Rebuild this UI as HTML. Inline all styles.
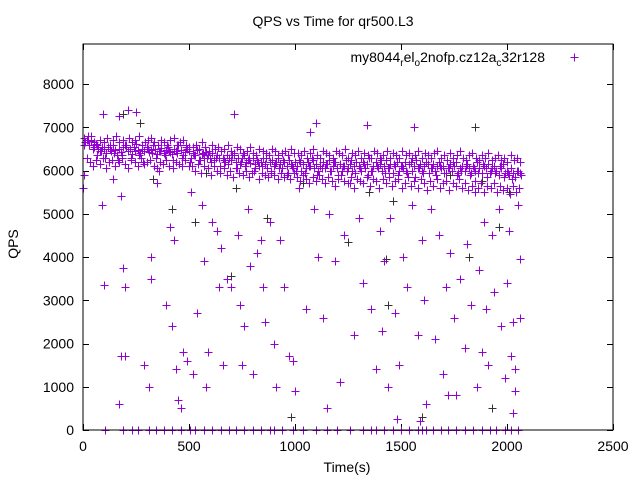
<!DOCTYPE html>
<html><head><meta charset="utf-8"><style>
html,body{margin:0;padding:0;background:#fff}
svg{display:block;font-family:"Liberation Sans",sans-serif}
</style></head><body>
<svg id="chart" width="640" height="480" viewBox="0 0 640 480">
<text x="333" y="26" font-size="14" text-anchor="middle">QPS vs Time for qr500.L3</text>
<text x="18" y="244" font-size="14" text-anchor="middle" transform="rotate(-90 18 244)">QPS</text>
<text x="347" y="472" font-size="14" text-anchor="middle">Time(s)</text>
<g id="ticks"></g>
<g id="marks"></g>
<rect x="83" y="44" width="530" height="386" fill="none" stroke="#000" stroke-width="1"/>
<g>
<text x="545" y="62" font-size="14" text-anchor="end">my8044<tspan font-size="10" dy="4">r</tspan><tspan dy="-4">el</tspan><tspan font-size="10" dy="4">o</tspan><tspan dy="-4">2nofp.cz12a</tspan><tspan font-size="10" dy="4">c</tspan><tspan dy="-4">32r128</tspan></text>
<path d="M570.5 57.5h8M574.5 53.5v8" stroke="#9400d3" stroke-width="1"/>
</g>
</svg>
<script>
const xTicks=[0,500,1000,1500,2000,2500];
const yTicks=[0,1000,2000,3000,4000,5000,6000,7000,8000];
const bandA=[5600,6650,6700,6600,6680,6550,6620,6500,6450,6550,
6500,6400,6550,6450,6600,6480,6350,6500,6420,6550,
6600,6450,6500,6380,6550,6620,6480,6400,6500,6450,
6550,6420,6480,6600,6500,6380,6450,6520,6400,6480,
6550,6420,6380,6500,6450,6600,6480,6350,6420,6500,
6450,6300,6400,6350,6480,6250,6380,6300,6420,6350,
6300,6400,6250,6350,6300,6450,6280,6200,6350,6300,
6250,6350,6200,6300,6150,6280,6350,6200,6250,6180,
6300,6150,6250,6100,6200,6280,6150,6050,6200,6250,
6100,6200,6300,6150,6050,6200,6100,6250,6150,6050,
6200,6100,6250,6000,6150,6050,6200,6100,6300,6050,
6150,6000,6100,6200,6050,6150,6250,6000,6100,6200,
6050,6150,6000,6100,6250,6050,6150,6000,6100,6200,
6100,6000,6200,6050,6150,6300,6000,6100,6200,6050,
6150,6000,6100,6250,6050,6150,5950,6100,6200,6000,
6100,6050,6200,5950,6150,6000,6100,6250,6050,6150,
6000,6100,6200,5950,6050,6150,6000,6100,6200,6050,
6100,5950,6050,6150,6000,6100,6200,5950,6050,6100,
6000,6150,6050,5950,6100,6000,6200,6050,5950,6100,
6050,6150,5950,6050,6100,6000,5900,6050,6150,5950,
6000,5900,6050,5950,5850,6000,5950];
const bandB=[6600,6700,6500,6350,6450,6300,6500,6400,6250,6350,
6550,6300,6450,6350,6200,6500,6400,6300,6450,6350,
6450,6250,6400,6300,6550,6200,6350,6250,6400,6300,
6200,6300,6100,6250,6150,6350,6050,6200,6100,6300,
6000,6200,6100,6300,5950,6150,6050,6250,5950,6100,
6000,6200,5950,6100,6250,5900,6050,6150,6000,6200,
5900,6100,6000,6250,5950,6050,6150,5900,6000,6100,
6250,5950,6050,6150,5900,6100,6000,6200,5850,6050,
5950,6150,6050,5900,6100,5950,6050,6200,5900,6000,
6100,5900,6050,5950,6150,5850,6000,5950,6100,5850,
5950,5800,6000,5900];
const bandC=[6750,6800,6700,6650,6600,6700,6650,6750,6600,6700,6800,6650,6700,6600,6750,6650,6700,6800,6600,6650,6700,6750,6650,6600,6700,6650,6600,6700,6750,6600,6650,6700,6600,6550,
6550,6600,6500,6650,6550,6450,6600,6500,6550,6450,6500,6600,6450,6400,6550,6500,6400,6450,6550,6400,6350,6500,6450,6400,6350,6500,6450,6350,6400,6450,6350,6500,6400,
6400,6350,6450,6300,6400,6500,6350,6300,6450,6400,6350,6300,6450,6400,6350,6500,6300,6400,6350,6450,6300,6400,6350,6300,6450,6400,6300,6350,6450,6300,6400,6350,6300,6450,6350,6400,6300,6350,6450,6300,6400,6350,6300,6400,6450,6300,6350,6250,6400,6300,6350,6450,6300,6250,6350,6400,6300,6250,6350,6300,6400,6250,6300,6350,6250,6300,6200,6350,6250,6300,6200];
const bandD=[5900,6300,6200,6100,6250,6150,6300,6050,6200,6250,6100,6200,6300,6150,6050,6250,6200,6100,6300,6150,6200,6250,6100,6050,6200,6150,6250,6100,6050,6200,6150,6100,6250,6100,
6100,6000,6150,5950,6100,6050,5900,6100,6000,5950,6050,5900,6000,5850,6050,5950,5900,6000,5850,5950,6050,5800,5950,5900,5850,6000,5900,5800,5950,5850,5900,5800,5950,
5850,5750,5900,5800,5700,5850,5750,5900,5800,5700,5850,5750,5650,5800,5900,5750,5700,5850,5600,5800,5750,5700,5850,5650,5800,5750,5600,5800,5700,5850,5650,5750,5800,5600,5700,5850,5650,5750,5600,5800,5700,5550,5750,5650,5800,5600,5700,5750,5550,5700,5650,5800,5600,5700,5550,5650,5750,5600,5700,5500,5650,5600,5700,5500,5650,5550,5600,5450,5650,5500,5600];
const outT=[40,95,170,210,250,90,140,180,190,200,100,180,200,170,290,310,320,320,350,390,410,430,420,360,440,450,460,470,490,520,510,540,560,570,580,590,610,630,640,650,660,680,700,710,730,740,750,760,780,790,800,820,840,850,860,880,900,910,930,950,970,990,1000,1020,1050,1070,1090,1100,1110,1130,1150,1160,1190,1210,1230,1260,1280,1300,1320,1340,1360,1380,1400,1410,1420,1440,1450,1470,1490,1510,1530,1550,1560,1580,1600,1610,1620,1640,1660,1680,1700,1710,1730,1750,1760,1780,1800,1810,1830,1850,1860,1870,1890,1900,1910,1930,1940,1960,1970,1990,2000,2010,2020,2030,2040,2050,2060,2060,2040,2030,1880,1720,1590,1480];
const outV=[6800,7300,7250,7400,7350,5200,5800,5400,3750,3300,3350,1700,1700,600,1500,1000,3500,4000,5700,2900,4700,4400,2400,6000,1400,700,500,1800,1600,1300,5500,2700,5200,3900,1000,1800,4800,4600,3300,4200,1500,3500,3300,7300,4500,2900,1500,2400,5100,3800,1300,4100,4400,3300,2500,4800,2000,1000,4400,3300,1700,1600,900,5600,2800,6900,5100,7100,4000,2600,500,5000,3900,1100,4500,5700,2200,4900,3400,7050,2800,1400,4600,2300,3900,1000,4900,2700,1500,4000,3300,5200,7000,2200,4400,3000,600,5100,2100,4500,1300,3300,4100,2600,800,3500,1900,4300,2900,5500,1000,3700,4800,2800,1500,4500,3200,5100,2400,1200,3400,4600,1700,2500,900,5200,2600,3950,1400,400,1800,800,200,250];
const zeroT=[105,190,230,260,310,345,380,420,460,505,530,570,610,650,690,720,760,800,840,880,900,940,990,1040,1100,1150,1200,1260,1320,1360,1380,1420,1460,1500,1540,1580,1600,1620,1650,1690,1720,1760,1800,1840,1880,1920,1950,1990,2020,2050];
const darkT=[190,270,330,420,530,580,700,720,870,980,1040,1250,1350,1430,1440,1600,1730,1820,1880,1930,1960,2010,1850,1460];
const darkV=[7300,7100,5800,5100,4800,5950,3550,5600,4900,300,5700,4350,5500,3950,2900,300,5900,4000,5750,500,4700,5500,7000,5300];

const NS='http://www.w3.org/2000/svg';
const X0=83,X1=613,Y0=430,Y8=84;
const sx=t=>X0+t/2500*(X1-X0);
const sy=v=>Y0-v/8000*(Y0-Y8);
const tg=document.getElementById('ticks');
const mg=document.getElementById('marks');
xTicks.forEach(t=>{
  const x=Math.round(sx(t))+0.5;
  const p=document.createElementNS(NS,'path');
  p.setAttribute('d',`M${x} 430v-6M${x} 44v6`);
  p.setAttribute('stroke','#000');
  
  
  tg.appendChild(p);
  const l=document.createElementNS(NS,'text');
  l.setAttribute('x',sx(t));l.setAttribute('y',451);
  l.setAttribute('font-size','14');l.setAttribute('text-anchor','middle');
  l.textContent=t;
  
  
  tg.appendChild(l);
});
yTicks.forEach(v=>{
  const y=Math.round(sy(v))+0.5;
  const p=document.createElementNS(NS,'path');
  p.setAttribute('d',`M83 ${y}h6M613 ${y}h-6`);
  p.setAttribute('stroke','#000');
  
  
  tg.appendChild(p);
  const l=document.createElementNS(NS,'text');
  l.setAttribute('x',74);l.setAttribute('y',sy(v)+5);
  l.setAttribute('font-size','14');l.setAttribute('text-anchor','end');
  l.textContent=v;
  
  
  tg.appendChild(l);
});
function plus(t,v,c){
  const x=Math.round(sx(t))+0.5,y=Math.round(sy(v))+0.5;
  const p=document.createElementNS(NS,'path');
  p.setAttribute('d',`M${x-4} ${y}h8M${x} ${y-4}v8`);
  p.setAttribute('stroke',c);
  
  
  mg.appendChild(p);
}
const P='#9400d3';
darkT.forEach((t,i)=>plus(t,darkV[i],'#333'));
bandA.forEach((v,i)=>plus(i*10,v,P));
bandB.forEach((v,i)=>plus(5+i*20,v,P));
bandC.forEach((v,i)=>plus(7+i*15,v,P));
bandD.forEach((v,i)=>plus(3+i*15,v,P));
outT.forEach((t,i)=>plus(t,outV[i],P));
zeroT.forEach(t=>plus(t,0,P));
</script>
</body></html>
